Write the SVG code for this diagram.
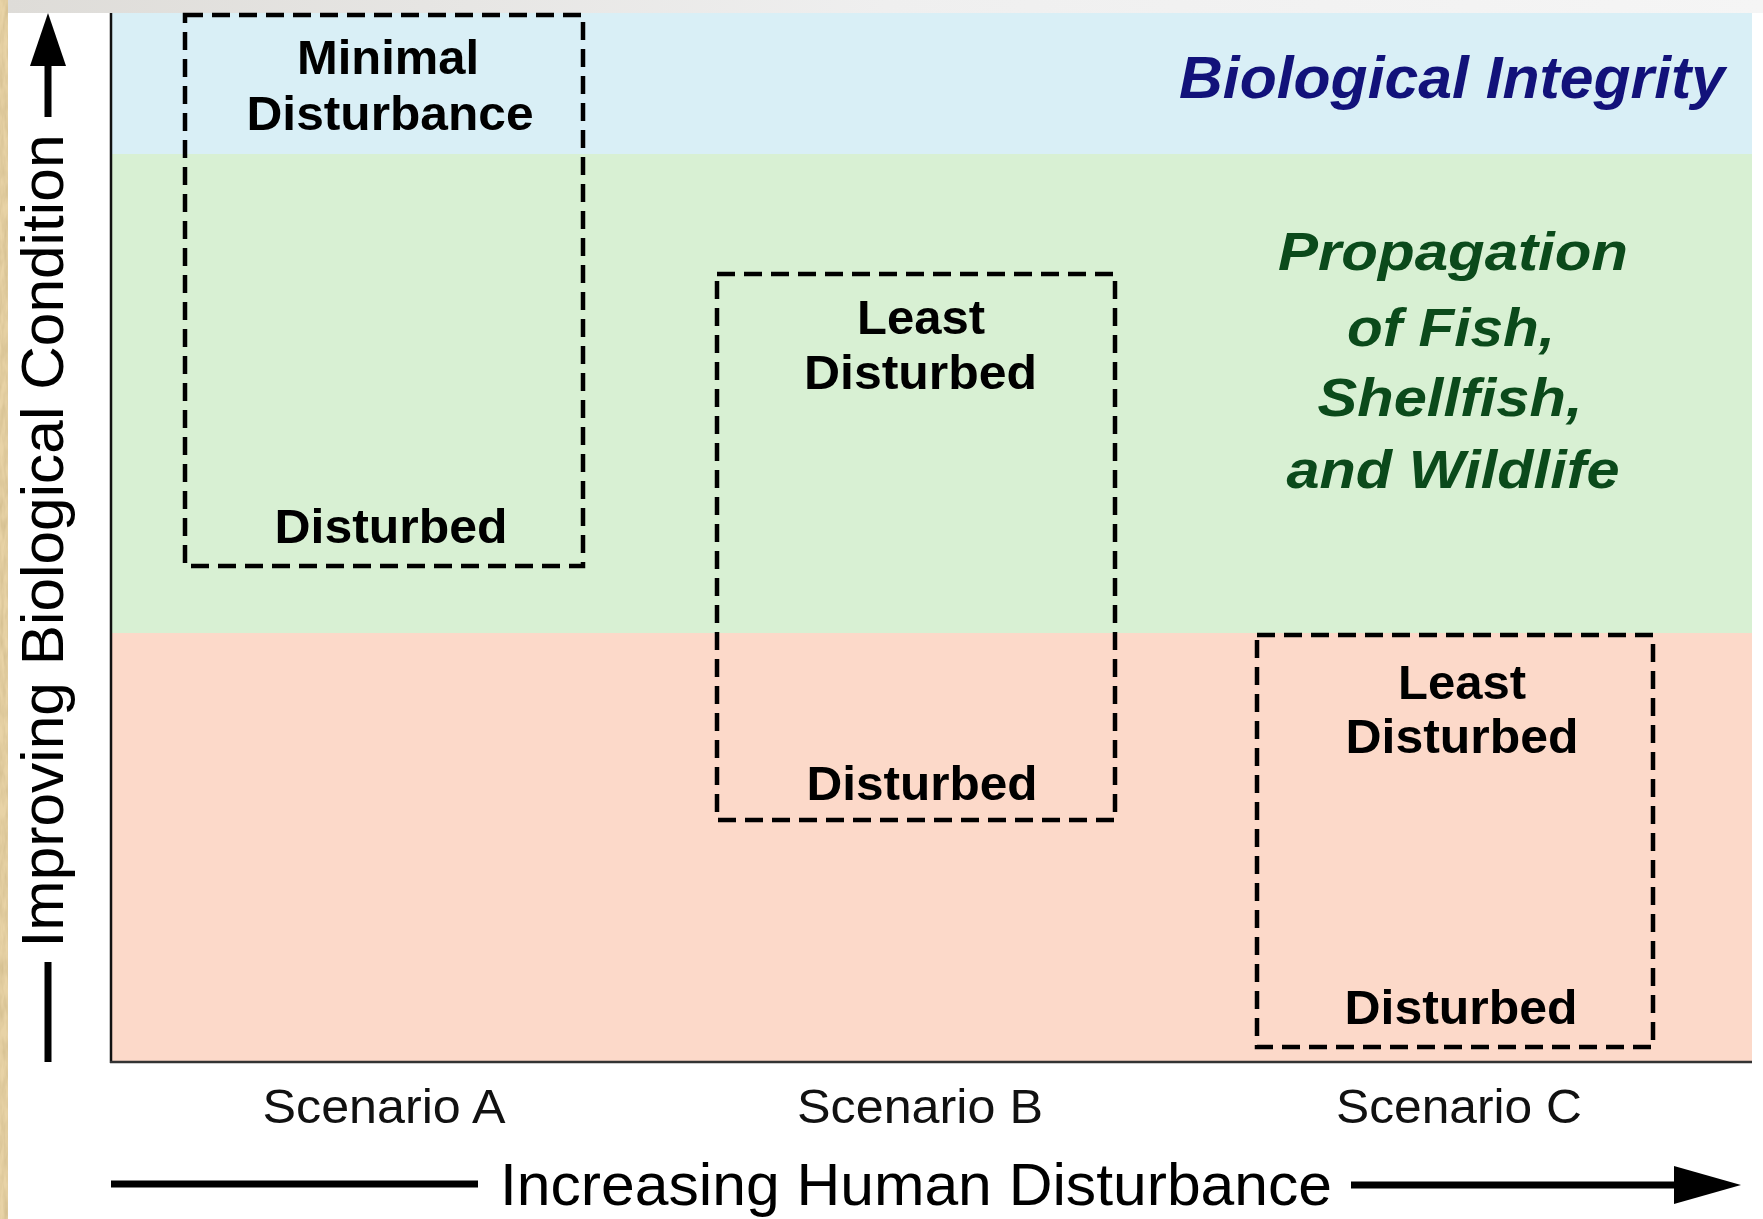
<svg xmlns="http://www.w3.org/2000/svg" width="1763" height="1219" viewBox="0 0 1763 1219">
  <defs>
    <linearGradient id="topband" x1="0" y1="0" x2="1" y2="0">
      <stop offset="0" stop-color="#dedcd8"/>
      <stop offset="0.5" stop-color="#efefef"/>
      <stop offset="1" stop-color="#f5f5f5"/>
    </linearGradient>
    <filter id="paper" x="0" y="0" width="1" height="1">
      <feTurbulence type="fractalNoise" baseFrequency="0.25 0.05" numOctaves="3" seed="4" result="n"/>
      <feColorMatrix in="n" type="matrix" values="0 0 0 0 0.55  0 0 0 0 0.42  0 0 0 0 0.2  0 0 0 0.9 -0.25" result="c"/>
      <feComposite in="c" in2="SourceGraphic" operator="atop"/>
    </filter>
    <style>
      .box { fill: none; stroke: #000; stroke-width: 4.5; stroke-dasharray: 18 9; }
      .lbl { font-family: "Liberation Sans", Arial, sans-serif; font-weight: bold; font-size: 48px; fill: #000; text-anchor: middle; }
      .scn { font-family: "Liberation Sans", Arial, sans-serif; font-size: 49px; fill: #111; text-anchor: middle; }
      .axis { font-family: "Liberation Sans", Arial, sans-serif; font-size: 59px; fill: #000; text-anchor: middle; }
      .bi { font-family: "Liberation Sans", Arial, sans-serif; font-weight: bold; font-style: italic; font-size: 60px; fill: #12127a; text-anchor: middle; }
      .pf { font-family: "Liberation Sans", Arial, sans-serif; font-weight: bold; font-style: italic; font-size: 54px; fill: #0b4a1b; text-anchor: middle; }
      .ax { stroke: #000; stroke-width: 7; fill: none; }
    </style>
  </defs>

  <!-- background -->
  <rect x="0" y="0" width="1763" height="1219" fill="#ffffff"/>
  <rect x="8" y="0" width="1755" height="13" fill="url(#topband)"/>
  <rect x="0" y="0" width="8" height="1219" fill="#e8d3a6" filter="url(#paper)"/>

  <!-- bands -->
  <g id="bands">
    <rect x="111" y="13" width="1641" height="141" fill="#d9eff6"/>
    <rect x="111" y="154" width="1641" height="479" fill="#d8f0d3"/>
    <rect x="111" y="633" width="1641" height="429" fill="#fcd9c9"/>
    <line x1="111" y1="13" x2="111" y2="1063" stroke="#111" stroke-width="2.5"/>
    <line x1="110" y1="1062" x2="1752" y2="1062" stroke="#333" stroke-width="2.5"/>
  </g>

  <g id="label-biological-integrity">
    <text class="bi" x="1452" y="98" textLength="546" lengthAdjust="spacingAndGlyphs">Biological Integrity</text>
  </g>

  <g id="label-propagation">
    <text class="pf" x="1453" y="270" textLength="350" lengthAdjust="spacingAndGlyphs">Propagation</text>
    <text class="pf" x="1451" y="346" textLength="208" lengthAdjust="spacingAndGlyphs">of Fish,</text>
    <text class="pf" x="1450" y="416" textLength="265" lengthAdjust="spacingAndGlyphs">Shellfish,</text>
    <text class="pf" x="1453" y="488" textLength="333" lengthAdjust="spacingAndGlyphs">and Wildlife</text>
  </g>

  <g id="scenario-a">
    <rect class="box" x="185" y="15" width="398" height="551"/>
    <text class="lbl" x="388" y="74" textLength="182" lengthAdjust="spacingAndGlyphs">Minimal</text>
    <text class="lbl" x="390" y="130" textLength="287" lengthAdjust="spacingAndGlyphs">Disturbance</text>
    <text class="lbl" x="391" y="543" textLength="233" lengthAdjust="spacingAndGlyphs">Disturbed</text>
  </g>

  <g id="scenario-b">
    <rect class="box" x="717" y="274" width="398" height="546"/>
    <text class="lbl" x="921" y="334" textLength="128" lengthAdjust="spacingAndGlyphs">Least</text>
    <text class="lbl" x="920.5" y="389" textLength="233" lengthAdjust="spacingAndGlyphs">Disturbed</text>
    <text class="lbl" x="922" y="800" textLength="231" lengthAdjust="spacingAndGlyphs">Disturbed</text>
  </g>

  <g id="scenario-c">
    <rect class="box" x="1257" y="635" width="396" height="412"/>
    <text class="lbl" x="1462" y="699" textLength="128" lengthAdjust="spacingAndGlyphs">Least</text>
    <text class="lbl" x="1462" y="753" textLength="233" lengthAdjust="spacingAndGlyphs">Disturbed</text>
    <text class="lbl" x="1461" y="1024" textLength="233" lengthAdjust="spacingAndGlyphs">Disturbed</text>
  </g>

  <g id="scenario-labels">
    <text class="scn" x="384" y="1123" textLength="243" lengthAdjust="spacingAndGlyphs">Scenario A</text>
    <text class="scn" x="920" y="1123" textLength="246" lengthAdjust="spacingAndGlyphs">Scenario B</text>
    <text class="scn" x="1459" y="1123" textLength="246" lengthAdjust="spacingAndGlyphs">Scenario C</text>
  </g>

  <g id="axis-titles">
    <text class="axis" x="916" y="1205" textLength="832" lengthAdjust="spacingAndGlyphs">Increasing Human Disturbance</text>
    <text class="axis" transform="translate(63 541) rotate(-90)" x="0" y="0" textLength="813" lengthAdjust="spacingAndGlyphs">Improving Biological Condition</text>
  </g>

  <g id="connectors">
    <!-- y axis arrow -->
    <line class="ax" x1="48" y1="60" x2="48" y2="117"/>
    <path d="M48 13 L66 66 L30 66 Z" fill="#000"/>
    <line class="ax" x1="48" y1="962" x2="48" y2="1062"/>
    <!-- x axis arrow -->
    <line class="ax" x1="111" y1="1184" x2="478" y2="1184"/>
    <line class="ax" x1="1351" y1="1185" x2="1680" y2="1185"/>
    <path d="M1741 1185 L1674 1166 L1674 1204 Z" fill="#000"/>
  </g>
</svg>
